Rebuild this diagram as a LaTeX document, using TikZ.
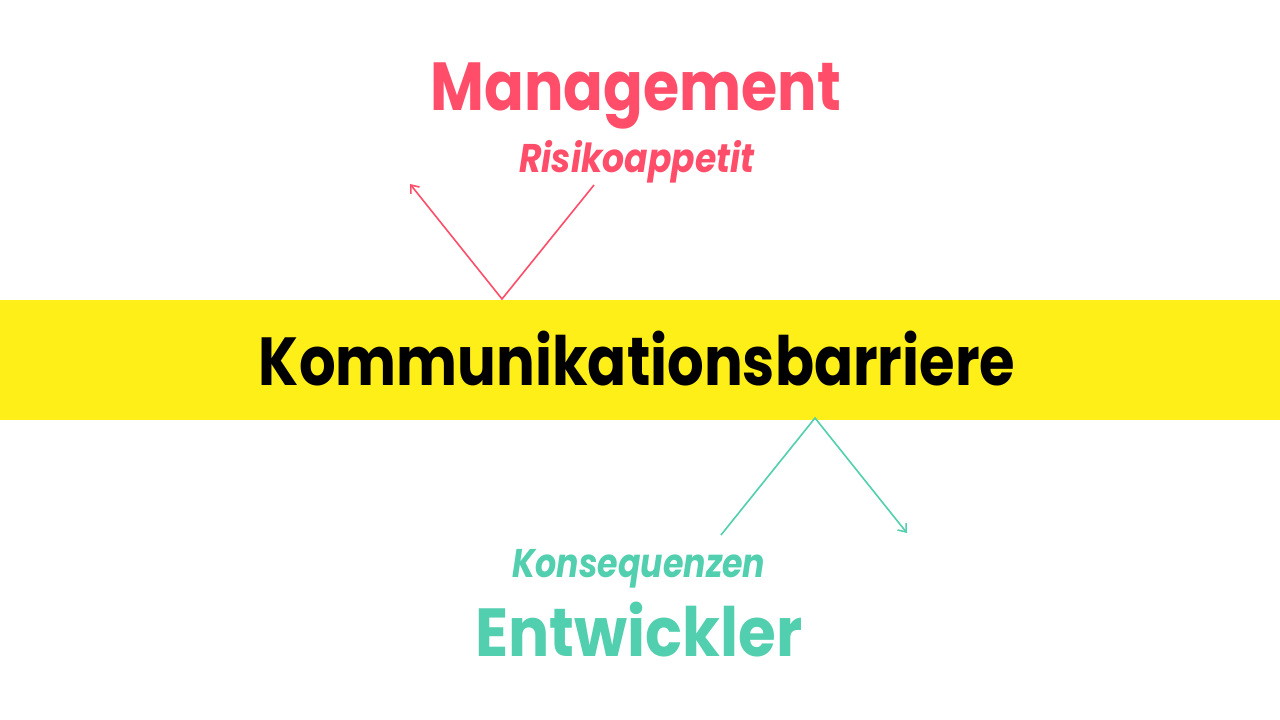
\documentclass[tikz,border=0pt]{standalone}
\usepackage{fontspec}
\setmainfont{Poppins}
\usetikzlibrary{arrows.meta}
\definecolor{mred}{HTML}{FF4D6A}
\definecolor{mgreen}{HTML}{52CFAE}
\definecolor{myellow}{HTML}{FFEF19}
\tikzset{
  bigtext/.style={anchor=base, font=\fontsize{68}{70}\selectfont\bfseries, inner sep=0pt},
  smalltext/.style={anchor=base, font=\fontsize{40}{42}\selectfont\bfseries\itshape, inner sep=0pt},
  conn/.style={line width=1.6pt, -{Straight Barb[length=7pt,width=11pt,line width=1.6pt]}},
}
\begin{document}
\begin{tikzpicture}[x=1pt,y=-1pt]
\useasboundingbox (0,0) rectangle (1280,720);
\fill[white] (0,0) rectangle (1280,720);
\fill[myellow] (0,300) rectangle (1280,420);
\node[bigtext, text=mred] (mgmt) at (636,110) {\scalebox{0.862}[1]{Management}};
\node[smalltext, text=mred] (risk) at (637,172) {\scalebox{0.864}[1]{Risikoappetit}};
\node[bigtext, text=black] (barrier) at (637,385) {\scalebox{0.847}[1]{Kommunikationsbarriere}};
\node[smalltext, text=mgreen] (kons) at (639,577) {\scalebox{0.83}[1]{Konsequenzen}};
\node[bigtext, text=mgreen] (dev) at (639,656) {\scalebox{0.90}[1]{Entwickler}};
\coordinate (r1) at (594,185);
\coordinate (rv) at (502,299);
\coordinate (r2) at (410,184);
\coordinate (g1) at (721,535);
\coordinate (gv) at (815,418);
\coordinate (g2) at (907,533);
\draw[conn, mred, line join=miter] (r1) -- (rv) -- (r2);
\draw[conn, mgreen, line join=miter] (g1) -- (gv) -- (g2);
\end{tikzpicture}
\end{document}
